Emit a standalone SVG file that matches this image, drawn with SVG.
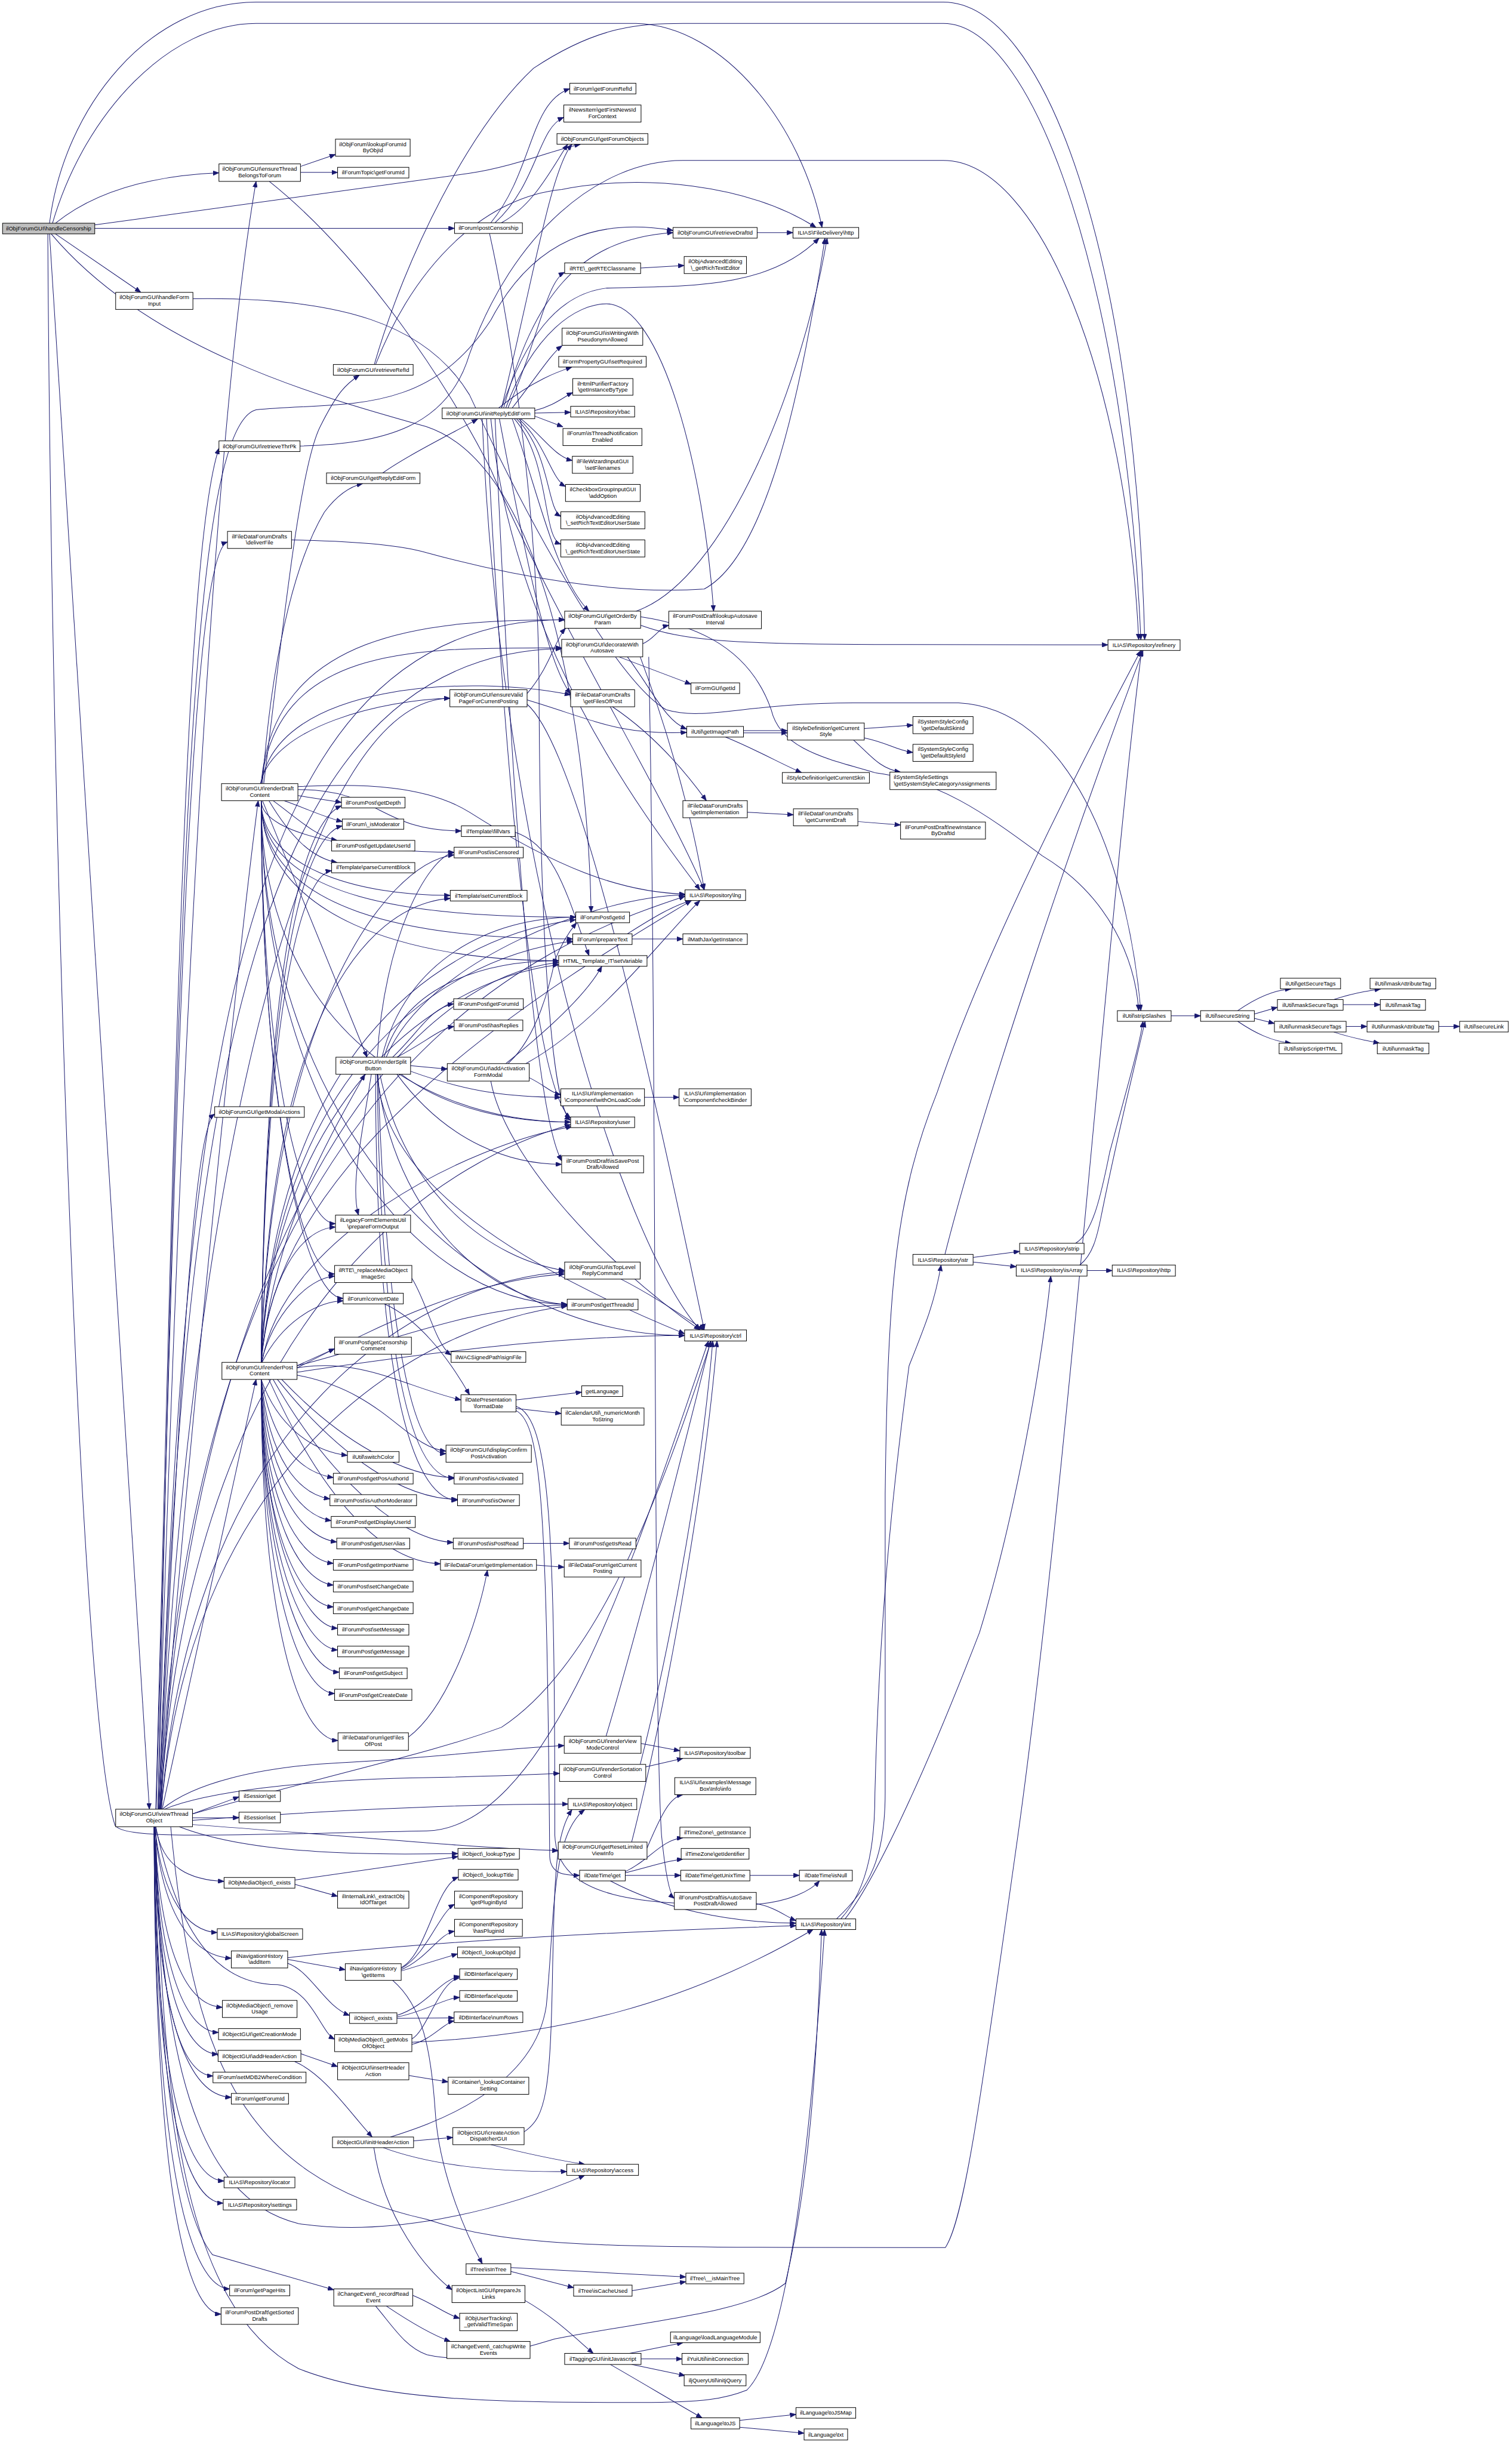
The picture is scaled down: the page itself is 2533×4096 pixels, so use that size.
<svg xmlns="http://www.w3.org/2000/svg" width="2533" height="4096" viewBox="0 0 2533 4096">
<defs>
<marker id="ah" markerUnits="userSpaceOnUse" markerWidth="15" markerHeight="11" refX="14" refY="5.5" orient="auto"><path d="M0,0 L14,5.5 L0,11 z" fill="#191970" stroke="#191970" stroke-width="1"/></marker>
</defs>
<style>
#edges path{fill:none;stroke:#191970;stroke-width:1.4;marker-end:url(#ah)}
.node rect{fill:#ffffff;stroke:#000000;stroke-width:1.4}
.node rect.root{fill:#bfbfbf}
.node text{font-family:"Liberation Sans",Arial,Helvetica,sans-serif;font-size:13.3px;text-anchor:middle;fill:#000000}
.node text.l{text-anchor:start}
</style>
<rect x="0" y="0" width="2533" height="4096" fill="#ffffff"/>
<g transform="scale(0.715)">
<g id="edges">
<path d="M116,523 C150,250 350,5 600,5 L2210,5 C2450,5 2660,600 2682,1499"/>
<path d="M123,523 C200,260 400,55 600,55 L1490,55 C1700,60 1880,300 1926,533"/>
<path d="M130,523 C220,450 350,412 513,405"/>
<path d="M222,527 L1100,406 C1200,392 1300,350 1360,338"/>
<path d="M222,535 L1065,535"/>
<path d="M130,548 L330,685"/>
<path d="M116,548 L350,4239"/>
<path d="M120,548 C350,820 750,930 1000,1000 C1300,1100 1380,1800 1385,2137"/>
<path d="M112,548 C120,2000 190,4050 270,4278 C300,4310 500,4300 1000,4290 C1300,4280 1500,3600 1660,3142"/>
<path d="M704,390 L786,362"/>
<path d="M704,404 L791,404"/>
<path d="M631,425 C850,600 1050,900 1150,1100 C1300,1450 1550,1850 1650,2085"/>
<path d="M452,700 C800,695 1000,760 1100,925 C1250,1250 1450,1600 1561,1663 C1650,1690 1750,1647 2000,1647 L2246,1647 C2500,1660 2640,2000 2673,2368"/>
<path d="M877,854 C950,600 1100,300 1250,160 C1400,60 1500,55 1600,55 L2210,55 C2430,55 2640,700 2673,1499"/>
<path d="M880,854 C980,600 1150,460 1316,444 C1500,407 1750,430 1912,533"/>
<path d="M703,1045 C900,1040 1050,1000 1100,830 C1200,550 1400,376 1600,376 L2210,376 C2440,376 2640,900 2668,1499"/>
<path d="M897,1108 C950,1070 1050,1020 1119,982"/>
<path d="M683,1265 C850,1268 950,1280 1000,1295 C1200,1350 1450,1395 1650,1380 C1800,1300 1880,900 1933,558"/>
<path d="M1150,522 C1250,400 1240,240 1335,208"/>
<path d="M1160,522 C1260,430 1260,300 1321,275"/>
<path d="M1175,522 C1250,480 1290,400 1330,338"/>
<path d="M1147,547 C1210,832 1260,1248 1263,1600 C1265,2300 1300,2600 1337,2625"/>
<path d="M1200,956 C1260,880 1290,830 1317,810"/>
<path d="M1168,956 C1250,890 1310,870 1340,860"/>
<path d="M1253,962 C1300,950 1320,930 1342,920"/>
<path d="M1253,968 L1337,966"/>
<path d="M1253,975 L1319,1000"/>
<path d="M1220,981 C1270,1020 1300,1070 1341,1079"/>
<path d="M1215,981 C1280,1040 1290,1120 1325,1140"/>
<path d="M1210,981 C1290,1060 1280,1190 1314,1210"/>
<path d="M1205,981 C1290,1080 1270,1260 1314,1275"/>
<path d="M1190,956 C1260,800 1280,660 1323,638"/>
<path d="M1180,956 C1250,700 1350,560 1577,545"/>
<path d="M1175,956 C1250,650 1290,400 1340,338"/>
<path d="M1175,956 C1230,800 1300,690 1421,675 C1600,670 1800,680 1919,558"/>
<path d="M1185,956 C1250,780 1350,712 1421,712 C1550,712 1650,1100 1672,1432"/>
<path d="M1200,981 C1260,1150 1300,1350 1380,1432"/>
<path d="M1150,981 C1200,1500 1500,1900 1640,2085"/>
<path d="M1140,981 C1180,1800 1250,2550 1337,2620"/>
<path d="M1130,981 C1170,2000 1450,2900 1640,3116"/>
<path d="M1160,981 C1200,1900 1250,2600 1316,2720"/>
<path d="M1170,981 C1230,1300 1280,1550 1337,1626"/>
<path d="M1501,1465 C1600,1500 1700,1510 2100,1510 L2596,1511"/>
<path d="M1490,1432 C1700,1360 1880,900 1938,558"/>
<path d="M1501,1445 C1600,1460 1750,1500 1807,1663 C1830,1760 1950,1780 2052,1811 C2200,1830 2300,1900 2442,2005 C2600,2100 2660,2250 2668,2368"/>
<path d="M1506,1508 C1530,1500 1545,1470 1567,1465"/>
<path d="M1450,1539 L1619,1603"/>
<path d="M1470,1539 C1530,1620 1560,1690 1609,1708"/>
<path d="M1500,1539 C1560,1700 1620,1900 1650,2085"/>
<path d="M1520,1539 C1540,2500 1530,4000 1550,4300 C1560,4400 1570,4440 1580,4448"/>
<path d="M1235,1625 C1290,1560 1300,1500 1325,1472"/>
<path d="M1235,1640 C1400,1690 1450,1722 1609,1716"/>
<path d="M1235,1650 C1350,1750 1500,2400 1650,3116"/>
<path d="M1435,1656 C1530,1720 1600,1800 1655,1876"/>
<path d="M1742,1712 L1845,1712"/>
<path d="M1742,1717 L1845,1717"/>
<path d="M1700,1727 C1780,1760 1830,1790 1878,1810"/>
<path d="M2025,1707 L2139,1699"/>
<path d="M2025,1729 C2080,1740 2100,1758 2139,1763"/>
<path d="M2000,1734 C2040,1770 2060,1800 2110,1809"/>
<path d="M1751,1903 L1859,1909"/>
<path d="M2010,1925 L2110,1933"/>
<path d="M698,1864 L800,1880"/>
<path d="M665,1876 C720,1895 760,1915 802,1925"/>
<path d="M640,1876 C700,1920 740,1960 790,1969"/>
<path d="M630,1876 C680,1960 730,2010 790,2021"/>
<path d="M615,1876 L860,2477"/>
<path d="M698,1843 C850,1835 1000,1840 1100,1903 C1300,2030 1450,2090 1605,2095"/>
<path d="M610,1836 C640,1700 900,1640 1054,1636"/>
<path d="M612,1836 C650,1600 1100,1580 1337,1628"/>
<path d="M612,1836 C650,1500 1000,1520 1316,1518"/>
<path d="M612,1836 C640,1480 1000,1452 1323,1452"/>
<path d="M698,1850 C890,1850 890,1947 1081,1947"/>
<path d="M612,1876 C612,1960 870,1997 1064,1997"/>
<path d="M612,1876 C612,2030 830,2098 1055,2098"/>
<path d="M612,1876 C612,2150 960,2251 1309,2251"/>
<path d="M612,1876 C612,2110 980,2149 1349,2149"/>
<path d="M612,1876 C612,2140 980,2200 1342,2200"/>
<path d="M612,1876 C612,2380 970,2629 1337,2629"/>
<path d="M612,1876 C612,2630 1100,3129 1604,3129"/>
<path d="M612,1876 C612,2540 700,2985 784,2985"/>
<path d="M612,1876 C612,2580 710,3042 804,3042"/>
<path d="M612,1876 C612,2585 970,3056 1329,3056"/>
<path d="M612,1876 C612,2470 700,2867 786,2867"/>
<path d="M615,1836 C640,1500 700,1300 760,1200 C790,1160 820,1140 850,1133"/>
<path d="M618,1836 C660,1500 700,1100 750,1000 C790,920 810,900 842,879"/>
<path d="M920,2477 C980,2420 1010,2360 1063,2352"/>
<path d="M930,2477 C1000,2440 1030,2410 1064,2405"/>
<path d="M962,2497 L1048,2505"/>
<path d="M884,2477 C900,2200 1000,2010 1064,1997"/>
<path d="M900,2477 C950,2300 1150,2251 1309,2251"/>
<path d="M895,2477 C950,2250 1150,2149 1349,2149"/>
<path d="M905,2477 C1000,2250 1400,2100 1605,2097"/>
<path d="M962,2510 C1100,2560 1200,2571 1314,2571"/>
<path d="M940,2517 C1050,2600 1200,2629 1337,2629"/>
<path d="M930,2517 C1050,2680 1200,2728 1316,2728"/>
<path d="M884,2517 C900,2800 1300,3000 1604,3125"/>
<path d="M890,2517 C950,2800 1150,2950 1323,2977"/>
<path d="M884,2517 C920,2850 1150,3050 1329,3056"/>
<path d="M884,2517 C890,3100 950,3464 1064,3464"/>
<path d="M880,2517 C880,3200 960,3515 1072,3515"/>
<path d="M886,2517 C900,3000 950,3406 1045,3406"/>
<path d="M870,2517 C850,2650 820,2780 840,2847"/>
<path d="M1185,2492 C1300,2400 1380,2320 1410,2264"/>
<path d="M1190,2492 C1260,2430 1290,2300 1300,2250 C1320,2200 1340,2175 1351,2162"/>
<path d="M1240,2525 C1280,2545 1290,2560 1314,2565"/>
<path d="M1232,2492 C1400,2400 1550,2200 1640,2110"/>
<path d="M1150,2533 C1180,2700 1400,2950 1640,3116"/>
<path d="M1510,2571 L1591,2571"/>
<path d="M612,3192 C640,3080 720,2995 784,2990"/>
<path d="M614,3192 C660,3100 740,3050 804,3048"/>
<path d="M696,3200 L784,3160"/>
<path d="M612,3232 C650,3340 730,3400 814,3410"/>
<path d="M612,3232 C640,3380 700,3450 781,3462"/>
<path d="M612,3232 C630,3420 700,3500 773,3512"/>
<path d="M612,3232 C625,3450 700,3550 776,3563"/>
<path d="M612,3232 C620,3480 700,3600 789,3613"/>
<path d="M612,3232 C618,3520 700,3655 781,3663"/>
<path d="M612,3232 C616,3550 700,3705 781,3714"/>
<path d="M612,3232 C614,3580 700,3760 781,3765"/>
<path d="M612,3232 C614,3600 710,3810 791,3815"/>
<path d="M612,3232 C613,3640 710,3860 791,3866"/>
<path d="M612,3232 C613,3670 710,3915 795,3918"/>
<path d="M612,3232 C612,3700 700,3965 784,3968"/>
<path d="M612,3232 C612,3800 700,4075 792,4078"/>
<path d="M696,3205 C850,3180 950,3250 1080,3280"/>
<path d="M696,3222 C900,3260 950,3390 1045,3400"/>
<path d="M660,3232 C800,3380 950,3460 1064,3462"/>
<path d="M650,3232 C800,3420 950,3512 1072,3513"/>
<path d="M640,3232 C780,3480 950,3610 1062,3614"/>
<path d="M630,3232 C760,3520 900,3660 1032,3664"/>
<path d="M696,3200 C900,3150 1100,3060 1329,3058"/>
<path d="M696,3215 C1000,3170 1300,3130 1604,3129"/>
<path d="M612,3192 C640,2700 1300,2300 1620,2110"/>
<path d="M614,3192 C660,2900 1100,2680 1340,2640"/>
<path d="M612,3192 C640,2600 1000,2300 1309,2260"/>
<path d="M612,3192 C630,2400 850,2120 1055,2105"/>
<path d="M612,3192 C620,2400 700,2050 777,2040"/>
<path d="M612,3192 C640,2500 1000,2200 1349,2155"/>
<path d="M612,3192 C630,2400 900,2020 1064,2003"/>
<path d="M612,3192 C640,2550 1000,2250 1342,2205"/>
<path d="M612,3192 C620,2300 700,1930 800,1888"/>
<path d="M612,3192 C620,2350 700,1960 802,1935"/>
<path d="M612,3192 C640,2900 750,2700 855,2517"/>
<path d="M696,3205 C900,3100 1100,3000 1323,2985"/>
<path d="M612,3192 C630,3000 700,2880 786,2875"/>
<path d="M965,2995 C1000,3050 1020,3150 1057,3175"/>
<path d="M900,3055 C980,3090 1050,3180 1100,3268"/>
<path d="M1209,3280 L1363,3262"/>
<path d="M1209,3300 L1315,3312"/>
<path d="M1209,3305 C1270,3335 1281,3547 1288,4350 C1290,4390 1320,4394 1358,4394"/>
<path d="M1209,3295 C1290,3320 1300,3600 1300,4300 C1305,4450 1500,4465 1772,4462 C1850,4455 1900,4430 1920,4407"/>
<path d="M1226,3616 L1334,3616"/>
<path d="M1257,3667 L1322,3672"/>
<path d="M957,4070 C1050,4000 1120,3800 1142,3679"/>
<path d="M1455,2997 C1520,3030 1580,3070 1650,3116"/>
<path d="M1502,4085 L1593,4102"/>
<path d="M1420,4068 C1500,3800 1600,3400 1665,3142"/>
<path d="M1513,4140 L1600,4120"/>
<path d="M1500,4134 C1560,3900 1640,3500 1670,3142"/>
<path d="M1516,4330 C1550,4250 1570,4210 1600,4205"/>
<path d="M1480,4316 C1560,4000 1650,3500 1680,3142"/>
<path d="M1465,4394 L1595,4394"/>
<path d="M1465,4388 C1520,4375 1560,4360 1600,4356"/>
<path d="M1465,4385 C1520,4360 1550,4310 1600,4306"/>
<path d="M1430,4407 C1550,4470 1700,4505 1865,4506"/>
<path d="M1757,4394 L1873,4394"/>
<path d="M1772,4460 C1820,4470 1840,4490 1865,4500"/>
<path d="M1960,4496 C2040,4420 2074,4350 2074,4200 L2074,3500 C2080,3000 2100,2800 2196,2559 C2300,2250 2500,1850 2673,1524"/>
<path d="M1970,4496 C2040,4420 2050,4300 2050,4200 C2060,3800 2090,3500 2130,3200 C2170,3100 2190,3050 2205,2964"/>
<path d="M1980,4496 C2040,4420 2150,4200 2295,3825 C2380,3550 2440,3200 2462,2990"/>
<path d="M2280,2946 L2389,2932"/>
<path d="M2280,2957 L2381,2968"/>
<path d="M2214,2939 C2300,2600 2500,2000 2678,1524"/>
<path d="M2547,2977 L2606,2977"/>
<path d="M2520,2913 C2560,2890 2580,2800 2600,2700 C2640,2550 2670,2450 2678,2393"/>
<path d="M2530,2964 C2560,2940 2570,2900 2580,2850 C2620,2650 2670,2450 2683,2393"/>
<path d="M2744,2380 L2813,2380"/>
<path d="M2900,2368 C2940,2340 2980,2320 3025,2317"/>
<path d="M2939,2376 L2993,2360"/>
<path d="M2939,2386 L2986,2398"/>
<path d="M2900,2393 C2940,2420 2980,2440 3025,2444"/>
<path d="M3125,2342 C3160,2330 3200,2322 3235,2317"/>
<path d="M3147,2354 L3234,2354"/>
<path d="M3154,2405 L3203,2405"/>
<path d="M3125,2418 C3160,2430 3200,2438 3232,2444"/>
<path d="M3371,2405 L3420,2405"/>
<path d="M370,4239 C420,2500 500,1000 600,425"/>
<path d="M365,4239 C410,2600 430,1300 513,1050"/>
<path d="M366,4239 C410,2700 440,1300 533,1270"/>
<path d="M372,4239 C430,2700 500,1450 1323,1452"/>
<path d="M372,4239 C430,2800 520,1530 1316,1520"/>
<path d="M375,4239 C430,3500 550,2300 605,1876"/>
<path d="M380,4239 L600,3232"/>
<path d="M372,4239 C420,3300 450,2650 503,2610"/>
<path d="M375,4239 C450,2500 1300,2200 1605,2100"/>
<path d="M451,4250 C800,4150 1000,4111 1175,4047 C1400,3900 1550,3500 1666,3142"/>
<path d="M376,4239 C450,3000 1100,2700 1337,2635"/>
<path d="M451,4265 C800,4240 1100,4227 1331,4227"/>
<path d="M451,4250 L560,4210"/>
<path d="M451,4259 L560,4259"/>
<path d="M380,4239 C450,4180 600,4140 800,4130 C1000,4120 1200,4095 1322,4090"/>
<path d="M385,4239 C480,4200 700,4170 1000,4165 C1150,4162 1250,4158 1311,4155"/>
<path d="M451,4275 C800,4300 1100,4330 1308,4336"/>
<path d="M420,4280 C600,4350 900,4345 1073,4343"/>
<path d="M378,4239 C450,3400 1000,3100 1329,3060"/>
<path d="M378,4239 C450,3300 1000,3000 1323,2980"/>
<path d="M377,4239 C440,3000 900,2300 1309,2255"/>
<path d="M374,4239 C440,2800 700,1640 1054,1636"/>
<path d="M370,4239 C420,2000 450,1000 600,960 C800,940 1000,980 1150,750 C1250,560 1400,510 1577,540"/>
<path d="M400,4280 C450,4800 550,5100 1000,5200 C1200,5266 1400,5266 2150,5266 L2215,5266 C2260,5200 2300,4900 2378,4350 C2500,3500 2600,2100 2675,1524"/>
<path d="M365,4280 C380,4900 420,5400 700,5550 C900,5629 1200,5629 1500,5629 C1650,5629 1700,5620 1750,5600 C1850,5500 1900,5000 1932,4521"/>
<path d="M365,4280 C380,4380 450,4405 525,4408"/>
<path d="M363,4280 C380,4450 440,4525 509,4528"/>
<path d="M363,4280 C380,4500 460,4585 542,4588"/>
<path d="M362,4280 C375,4580 440,4700 521,4703"/>
<path d="M362,4280 C372,4630 440,4760 512,4762"/>
<path d="M362,4280 C370,4680 440,4812 511,4813"/>
<path d="M362,4280 C368,4720 430,4862 499,4864"/>
<path d="M362,4280 C366,4760 450,4912 542,4914"/>
<path d="M361,4280 C364,4900 440,5108 525,5110"/>
<path d="M361,4280 C363,4950 440,5160 523,5162"/>
<path d="M361,4280 C362,5100 450,5360 538,5363"/>
<path d="M361,4280 C362,5150 440,5420 518,5422"/>
<path d="M362,4280 C370,4900 430,5200 498,5283 L782,5365"/>
<path d="M365,4280 C420,4550 520,4650 650,4650 C730,4660 750,4760 784,4778"/>
<path d="M362,4280 C380,4800 450,5150 700,5210 C900,5240 1150,5190 1370,5097"/>
<path d="M969,5016 L1061,5008"/>
<path d="M898,5032 C1000,5070 1150,5090 1328,5088"/>
<path d="M876,5032 C900,5200 1000,5320 1059,5365"/>
<path d="M915,5007 C1000,4980 1250,4900 1280,4700 C1300,4500 1290,4300 1370,4240"/>
<path d="M1150,5025 C1250,5050 1330,5065 1370,5071"/>
<path d="M1228,4995 C1280,4960 1290,4900 1295,4600 C1300,4400 1300,4300 1340,4240"/>
<path d="M705,4812 L791,4842"/>
<path d="M690,4830 C760,4860 820,4950 872,5007"/>
<path d="M958,4863 L1050,4878"/>
<path d="M691,4415 L791,4443"/>
<path d="M691,4405 L1073,4350"/>
<path d="M674,4591 L809,4615"/>
<path d="M674,4600 C730,4620 760,4700 819,4722"/>
<path d="M674,4587 C900,4560 1300,4530 1865,4512"/>
<path d="M940,4610 C1000,4580 1020,4420 1074,4398"/>
<path d="M940,4612 C1000,4580 1030,4480 1065,4462"/>
<path d="M940,4615 C1000,4590 1030,4530 1065,4525"/>
<path d="M940,4618 L1072,4578"/>
<path d="M920,4640 C990,4700 1010,4800 1020,4950 C1030,5100 1100,5250 1130,5304"/>
<path d="M930,4722 C1000,4700 1030,4640 1077,4630"/>
<path d="M930,4726 C1000,4712 1040,4682 1077,4680"/>
<path d="M930,4729 L1064,4728"/>
<path d="M965,4777 C1000,4760 1030,4640 1077,4634"/>
<path d="M965,4790 C1010,4780 1040,4740 1064,4735"/>
<path d="M965,4785 C1300,4770 1600,4700 1905,4521"/>
<path d="M967,5378 C1020,5400 1040,5420 1077,5432"/>
<path d="M905,5403 C960,5440 1010,5470 1055,5486"/>
<path d="M880,5403 C920,5450 950,5500 1000,5517 C1100,5540 1200,5510 1300,5480 C1500,5440 1750,5420 1840,5350 C1900,5100 1915,4800 1925,4521"/>
<path d="M1230,5390 C1300,5430 1350,5480 1390,5514"/>
<path d="M1197,5313 L1607,5335"/>
<path d="M1197,5322 L1344,5360"/>
<path d="M1481,5367 L1607,5346"/>
<path d="M1475,5514 L1600,5489"/>
<path d="M1502,5527 L1598,5527"/>
<path d="M1480,5540 L1605,5566"/>
<path d="M1430,5540 C1500,5580 1600,5640 1645,5665"/>
<path d="M1733,5671 L1865,5657"/>
<path d="M1733,5687 L1884,5701"/>
<path d="M1501,628 L1603,622"/>
<path d="M1774,545 L1858,545"/>
<path d="M1481,2200 L1600,2200"/>
<path d="M1470,2188 C1530,2150 1580,2120 1620,2110"/>
<path d="M1207,1950 C1300,1980 1330,2100 1380,2239"/>
</g>
<g id="n-root" class="node"><rect class="root" x="6" y="523" width="216" height="25"/><text x="114" y="540">ilObjForumGUI\handleCensorship</text></g>
<g id="n-ensure" class="node"><rect x="513" y="384" width="191" height="41"/><text x="608.5" y="400">ilObjForumGUI\ensureThread</text><text x="608.5" y="415">BelongsToForum</text></g>
<g id="n-lookupForumId" class="node"><rect x="786" y="326" width="175" height="40"/><text x="873.5" y="342">ilObjForum\lookupForumId</text><text x="873.5" y="357">ByObjId</text></g>
<g id="n-topicForumId" class="node"><rect x="791" y="392" width="167" height="25"/><text x="874.5" y="409">ilForumTopic\getForumId</text></g>
<g id="n-handleFormInput" class="node"><rect x="271" y="685" width="181" height="40"/><text x="361.5" y="701">ilObjForumGUI\handleForm</text><text x="361.5" y="716">Input</text></g>
<g id="n-retrieveRefId" class="node"><rect x="781" y="854" width="187" height="25"/><text x="874.5" y="871">ilObjForumGUI\retrieveRefId</text></g>
<g id="n-retrieveThrPk" class="node"><rect x="513" y="1033" width="190" height="25"/><text x="608" y="1050">ilObjForumGUI\retrieveThrPk</text></g>
<g id="n-getReplyEditForm" class="node"><rect x="765" y="1108" width="219" height="25"/><text x="874.5" y="1125">ilObjForumGUI\getReplyEditForm</text></g>
<g id="n-deliverFile" class="node"><rect x="533" y="1245" width="150" height="40"/><text x="608" y="1261">ilFileDataForumDrafts</text><text x="608" y="1276">\deliverFile</text></g>
<g id="n-getForumRefId" class="node"><rect x="1335" y="195" width="155" height="25"/><text x="1412.5" y="212">ilForum\getForumRefId</text></g>
<g id="n-newsItem" class="node"><rect x="1321" y="246" width="181" height="40"/><text x="1411.5" y="262">ilNewsItem\getFirstNewsId</text><text x="1411.5" y="277">ForContext</text></g>
<g id="n-getForumObjects" class="node"><rect x="1305" y="313" width="213" height="25"/><text x="1411.5" y="330">ilObjForumGUI\getForumObjects</text></g>
<g id="n-postCensorship" class="node"><rect x="1065" y="522" width="159" height="25"/><text x="1144.5" y="539">ilForum\postCensorship</text></g>
<g id="n-retrieveDraftId" class="node"><rect x="1577" y="533" width="197" height="25"/><text x="1675.5" y="550">ilObjForumGUI\retrieveDraftId</text></g>
<g id="n-fdHttp" class="node"><rect x="1858" y="533" width="154" height="25"/><text x="1935" y="550">ILIAS\FileDelivery\http</text></g>
<g id="n-getRTEClassname" class="node"><rect x="1323" y="616" width="178" height="25"/><text x="1412" y="633">ilRTE\_getRTEClassname</text></g>
<g id="n-getRichTextEditor" class="node"><rect x="1603" y="601" width="146" height="40"/><text x="1676" y="617">ilObjAdvancedEditing</text><text x="1676" y="632">\_getRichTextEditor</text></g>
<g id="n-isWriting" class="node"><rect x="1317" y="769" width="189" height="40"/><text x="1411.5" y="785">ilObjForumGUI\isWritingWith</text><text x="1411.5" y="800">PseudonymAllowed</text></g>
<g id="n-setRequired" class="node"><rect x="1309" y="835" width="205" height="25"/><text x="1411.5" y="852">ilFormPropertyGUI\setRequired</text></g>
<g id="n-htmlPurifier" class="node"><rect x="1342" y="887" width="141" height="39"/><text x="1412.5" y="903">ilHtmlPurifierFactory</text><text x="1412.5" y="918">\getInstanceByType</text></g>
<g id="n-rbac" class="node"><rect x="1337" y="952" width="150" height="25"/><text x="1412" y="969">ILIAS\Repository\rbac</text></g>
<g id="n-initReplyEditForm" class="node"><rect x="1036" y="956" width="217" height="25"/><text x="1144.5" y="973">ilObjForumGUI\initReplyEditForm</text></g>
<g id="n-isThreadNotif" class="node"><rect x="1319" y="1004" width="185" height="40"/><text x="1411.5" y="1020">ilForum\isThreadNotification</text><text x="1411.5" y="1035">Enabled</text></g>
<g id="n-fileWizard" class="node"><rect x="1341" y="1069" width="142" height="40"/><text x="1412" y="1085">ilFileWizardInputGUI</text><text x="1412" y="1100">\setFilenames</text></g>
<g id="n-checkbox" class="node"><rect x="1325" y="1135" width="175" height="40"/><text x="1412.5" y="1151">ilCheckboxGroupInputGUI</text><text x="1412.5" y="1166">\addOption</text></g>
<g id="n-setRTEUS" class="node"><rect x="1314" y="1199" width="197" height="40"/><text x="1412.5" y="1215">ilObjAdvancedEditing</text><text x="1412.5" y="1230">\_setRichTextEditorUserState</text></g>
<g id="n-getRTEUS" class="node"><rect x="1314" y="1265" width="197" height="40"/><text x="1412.5" y="1281">ilObjAdvancedEditing</text><text x="1412.5" y="1296">\_getRichTextEditorUserState</text></g>
<g id="n-getOrderBy" class="node"><rect x="1323" y="1432" width="178" height="40"/><text x="1412" y="1448">ilObjForumGUI\getOrderBy</text><text x="1412" y="1463">Param</text></g>
<g id="n-lookupAutosave" class="node"><rect x="1567" y="1432" width="217" height="41"/><text x="1675.5" y="1448">ilForumPostDraft\lookupAutosave</text><text x="1675.5" y="1463">Interval</text></g>
<g id="n-refinery" class="node"><rect x="2596" y="1499" width="169" height="25"/><text x="2680.5" y="1516">ILIAS\Repository\refinery</text></g>
<g id="n-decorate" class="node"><rect x="1316" y="1498" width="190" height="41"/><text x="1411" y="1514">ilObjForumGUI\decorateWith</text><text x="1411" y="1529">Autosave</text></g>
<g id="n-ensureValid" class="node"><rect x="1054" y="1616" width="181" height="40"/><text x="1144.5" y="1632">ilObjForumGUI\ensureValid</text><text x="1144.5" y="1647">PageForCurrentPosting</text></g>
<g id="n-fdGetFilesOfPost" class="node"><rect x="1337" y="1616" width="150" height="40"/><text x="1412" y="1632">ilFileDataForumDrafts</text><text x="1412" y="1647">\getFilesOfPost</text></g>
<g id="n-formGetId" class="node"><rect x="1619" y="1600" width="114" height="25"/><text x="1676" y="1617">ilFormGUI\getId</text></g>
<g id="n-getImagePath" class="node"><rect x="1609" y="1702" width="133" height="25"/><text x="1675.5" y="1719">ilUtil\getImagePath</text></g>
<g id="n-getCurrentStyle" class="node"><rect x="1845" y="1694" width="180" height="40"/><text x="1935" y="1710">ilStyleDefinition\getCurrent</text><text x="1935" y="1725">Style</text></g>
<g id="n-getCurrentSkin" class="node"><rect x="1833" y="1810" width="204" height="25"/><text x="1935" y="1827">ilStyleDefinition\getCurrentSkin</text></g>
<g id="n-defaultSkin" class="node"><rect x="2139" y="1679" width="141" height="40"/><text x="2209.5" y="1695">ilSystemStyleConfig</text><text x="2209.5" y="1710">\getDefaultSkinId</text></g>
<g id="n-defaultStyle" class="node"><rect x="2139" y="1744" width="141" height="40"/><text x="2209.5" y="1760">ilSystemStyleConfig</text><text x="2209.5" y="1775">\getDefaultStyleId</text></g>
<g id="n-styleSettings" class="node"><rect x="2085" y="1809" width="249" height="41"/><text class="l" x="2094" y="1825">ilSystemStyleSettings</text><text class="l" x="2094" y="1840">\getSystemStyleCategoryAssignments</text></g>
<g id="n-renderDraft" class="node"><rect x="519" y="1836" width="179" height="40"/><text x="608.5" y="1852">ilObjForumGUI\renderDraft</text><text x="608.5" y="1867">Content</text></g>
<g id="n-getDepth" class="node"><rect x="800" y="1868" width="149" height="25"/><text x="874.5" y="1885">ilForumPost\getDepth</text></g>
<g id="n-isModerator" class="node"><rect x="802" y="1919" width="144" height="24"/><text x="874" y="1936">ilForum\_isModerator</text></g>
<g id="n-getUpdateUserId" class="node"><rect x="777" y="1969" width="195" height="25"/><text x="874.5" y="1986">ilForumPost\getUpdateUserId</text></g>
<g id="n-parseCurrentBlock" class="node"><rect x="777" y="2021" width="195" height="24"/><text x="874.5" y="2037">ilTemplate\parseCurrentBlock</text></g>
<g id="n-fdGetImpl" class="node"><rect x="1600" y="1876" width="151" height="40"/><text x="1675.5" y="1892">ilFileDataForumDrafts</text><text x="1675.5" y="1907">\getImplementation</text></g>
<g id="n-getCurrentDraft" class="node"><rect x="1859" y="1895" width="151" height="40"/><text x="1934.5" y="1911">ilFileDataForumDrafts</text><text x="1934.5" y="1926">\getCurrentDraft</text></g>
<g id="n-newInstance" class="node"><rect x="2110" y="1926" width="199" height="40"/><text x="2209.5" y="1942">ilForumPostDraft\newInstance</text><text x="2209.5" y="1957">ByDraftId</text></g>
<g id="n-fillVars" class="node"><rect x="1081" y="1935" width="126" height="25"/><text x="1144" y="1952">ilTemplate\fillVars</text></g>
<g id="n-isCensored" class="node"><rect x="1064" y="1985" width="162" height="25"/><text x="1145" y="2002">ilForumPost\isCensored</text></g>
<g id="n-setCurrentBlock" class="node"><rect x="1055" y="2086" width="180" height="25"/><text x="1145" y="2103">ilTemplate\setCurrentBlock</text></g>
<g id="n-lng" class="node"><rect x="1605" y="2085" width="142" height="25"/><text x="1676" y="2102">ILIAS\Repository\lng</text></g>
<g id="n-postGetId" class="node"><rect x="1349" y="2137" width="126" height="25"/><text x="1412" y="2154">ilForumPost\getId</text></g>
<g id="n-prepareText" class="node"><rect x="1342" y="2188" width="139" height="25"/><text x="1411.5" y="2205">ilForum\prepareText</text></g>
<g id="n-mathJax" class="node"><rect x="1600" y="2188" width="151" height="25"/><text x="1675.5" y="2205">ilMathJax\getInstance</text></g>
<g id="n-setVariable" class="node"><rect x="1309" y="2239" width="207" height="25"/><text x="1412.5" y="2256">HTML_Template_IT\setVariable</text></g>
<g id="n-postGetForumId" class="node"><rect x="1063" y="2340" width="163" height="25"/><text x="1144.5" y="2357">ilForumPost\getForumId</text></g>
<g id="n-hasReplies" class="node"><rect x="1064" y="2390" width="161" height="25"/><text x="1144.5" y="2407">ilForumPost\hasReplies</text></g>
<g id="n-stripSlashes" class="node"><rect x="2618" y="2368" width="126" height="25"/><text x="2681" y="2385">ilUtil\stripSlashes</text></g>
<g id="n-secureString" class="node"><rect x="2813" y="2368" width="126" height="25"/><text x="2876" y="2385">ilUtil\secureString</text></g>
<g id="n-getSecureTags" class="node"><rect x="3000" y="2292" width="141" height="25"/><text x="3070.5" y="2309">ilUtil\getSecureTags</text></g>
<g id="n-maskSecureTags" class="node"><rect x="2993" y="2342" width="154" height="25"/><text x="3070" y="2359">ilUtil\maskSecureTags</text></g>
<g id="n-unmaskSecureTags" class="node"><rect x="2986" y="2393" width="168" height="25"/><text x="3070" y="2410">ilUtil\unmaskSecureTags</text></g>
<g id="n-stripScriptHTML" class="node"><rect x="2997" y="2444" width="147" height="25"/><text x="3070.5" y="2461">ilUtil\stripScriptHTML</text></g>
<g id="n-maskAttributeTag" class="node"><rect x="3210" y="2292" width="154" height="25"/><text x="3287" y="2309">ilUtil\maskAttributeTag</text></g>
<g id="n-maskTag" class="node"><rect x="3234" y="2342" width="106" height="25"/><text x="3287" y="2359">ilUtil\maskTag</text></g>
<g id="n-unmaskAttributeTag" class="node"><rect x="3203" y="2393" width="168" height="25"/><text x="3287" y="2410">ilUtil\unmaskAttributeTag</text></g>
<g id="n-secureLink" class="node"><rect x="3420" y="2393" width="114" height="25"/><text x="3477" y="2410">ilUtil\secureLink</text></g>
<g id="n-unmaskTag" class="node"><rect x="3227" y="2444" width="121" height="25"/><text x="3287.5" y="2461">ilUtil\unmaskTag</text></g>
<g id="n-renderSplit" class="node"><rect x="787" y="2477" width="175" height="40"/><text x="874.5" y="2493">ilObjForumGUI\renderSplit</text><text x="874.5" y="2508">Button</text></g>
<g id="n-addActivation" class="node"><rect x="1048" y="2492" width="192" height="41"/><text x="1144" y="2508">ilObjForumGUI\addActivation</text><text x="1144" y="2523">FormModal</text></g>
<g id="n-withOnLoad" class="node"><rect x="1314" y="2551" width="196" height="40"/><text x="1412" y="2567">ILIAS\UI\Implementation</text><text x="1412" y="2582">\Component\withOnLoadCode</text></g>
<g id="n-checkBinder" class="node"><rect x="1591" y="2551" width="169" height="40"/><text x="1675.5" y="2567">ILIAS\UI\Implementation</text><text x="1675.5" y="2582">\Component\checkBinder</text></g>
<g id="n-getModalActions" class="node"><rect x="503" y="2593" width="210" height="25"/><text x="608" y="2610">ilObjForumGUI\getModalActions</text></g>
<g id="n-user" class="node"><rect x="1337" y="2617" width="150" height="25"/><text x="1412" y="2634">ILIAS\Repository\user</text></g>
<g id="n-isSavePostDraft" class="node"><rect x="1316" y="2708" width="192" height="40"/><text x="1412" y="2724">ilForumPostDraft\isSavePost</text><text x="1412" y="2739">DraftAllowed</text></g>
<g id="n-prepareFormOutput" class="node"><rect x="786" y="2847" width="176" height="40"/><text x="874" y="2863">ilLegacyFormElementsUtil</text><text x="874" y="2878">\prepareFormOutput</text></g>
<g id="n-str" class="node"><rect x="2139" y="2939" width="141" height="25"/><text x="2209.5" y="2956">ILIAS\Repository\str</text></g>
<g id="n-strip" class="node"><rect x="2389" y="2913" width="151" height="25"/><text x="2464.5" y="2930">ILIAS\Repository\strip</text></g>
<g id="n-isArray" class="node"><rect x="2381" y="2964" width="166" height="26"/><text x="2464" y="2981">ILIAS\Repository\isArray</text></g>
<g id="n-repoHttp" class="node"><rect x="2606" y="2964" width="148" height="26"/><text x="2680" y="2981">ILIAS\Repository\http</text></g>
<g id="n-replaceMedia" class="node"><rect x="784" y="2965" width="181" height="40"/><text x="874.5" y="2981">ilRTE\_replaceMediaObject</text><text x="874.5" y="2996">ImageSrc</text></g>
<g id="n-isTopLevel" class="node"><rect x="1323" y="2957" width="177" height="40"/><text x="1411.5" y="2973">ilObjForumGUI\isTopLevel</text><text x="1411.5" y="2988">ReplyCommand</text></g>
<g id="n-convertDate" class="node"><rect x="804" y="3030" width="141" height="25"/><text x="874.5" y="3047">ilForum\convertDate</text></g>
<g id="n-getThreadId" class="node"><rect x="1329" y="3044" width="166" height="25"/><text x="1412" y="3061">ilForumPost\getThreadId</text></g>
<g id="n-ctrl" class="node"><rect x="1604" y="3116" width="145" height="26"/><text x="1676.5" y="3134">ILIAS\Repository\ctrl</text></g>
<g id="n-signFile" class="node"><rect x="1057" y="3167" width="175" height="25"/><text x="1144.5" y="3184">ilWACSignedPath\signFile</text></g>
<g id="n-censorshipComment" class="node"><rect x="784" y="3133" width="180" height="40"/><text x="874" y="3149">ilForumPost\getCensorship</text><text x="874" y="3164">Comment</text></g>
<g id="n-renderPost" class="node"><rect x="520" y="3192" width="176" height="40"/><text x="608" y="3208">ilObjForumGUI\renderPost</text><text x="608" y="3223">Content</text></g>
<g id="n-getLanguage" class="node"><rect x="1363" y="3247" width="96" height="25"/><text x="1411" y="3264">getLanguage</text></g>
<g id="n-formatDate" class="node"><rect x="1080" y="3268" width="129" height="40"/><text x="1144.5" y="3284">ilDatePresentation</text><text x="1144.5" y="3299">\formatDate</text></g>
<g id="n-numericMonth" class="node"><rect x="1315" y="3299" width="194" height="40"/><text x="1412" y="3315">ilCalendarUtil\_numericMonth</text><text x="1412" y="3330">ToString</text></g>
<g id="n-displayConfirm" class="node"><rect x="1045" y="3386" width="200" height="40"/><text x="1145" y="3402">ilObjForumGUI\displayConfirm</text><text x="1145" y="3417">PostActivation</text></g>
<g id="n-switchColor" class="node"><rect x="814" y="3401" width="121" height="25"/><text x="874.5" y="3418">ilUtil\switchColor</text></g>
<g id="n-isActivated" class="node"><rect x="1064" y="3452" width="161" height="25"/><text x="1144.5" y="3469">ilForumPost\isActivated</text></g>
<g id="n-getPosAuthorId" class="node"><rect x="781" y="3452" width="187" height="25"/><text x="874.5" y="3469">ilForumPost\getPosAuthorId</text></g>
<g id="n-isOwner" class="node"><rect x="1072" y="3502" width="145" height="26"/><text x="1144.5" y="3520">ilForumPost\isOwner</text></g>
<g id="n-isAuthorModerator" class="node"><rect x="773" y="3502" width="203" height="26"/><text x="874.5" y="3520">ilForumPost\isAuthorModerator</text></g>
<g id="n-getDisplayUserId" class="node"><rect x="776" y="3553" width="197" height="26"/><text x="874.5" y="3571">ilForumPost\getDisplayUserId</text></g>
<g id="n-isPostRead" class="node"><rect x="1062" y="3604" width="164" height="25"/><text x="1144" y="3621">ilForumPost\isPostRead</text></g>
<g id="n-getIsRead" class="node"><rect x="1334" y="3604" width="156" height="25"/><text x="1412" y="3621">ilForumPost\getIsRead</text></g>
<g id="n-getUserAlias" class="node"><rect x="789" y="3604" width="171" height="25"/><text x="874.5" y="3621">ilForumPost\getUserAlias</text></g>
<g id="n-fdfGetImpl" class="node"><rect x="1032" y="3654" width="225" height="25"/><text x="1144.5" y="3671">ilFileDataForum\getImplementation</text></g>
<g id="n-getCurrentPosting" class="node"><rect x="1322" y="3655" width="180" height="40"/><text x="1412" y="3671">ilFileDataForum\getCurrent</text><text x="1412" y="3686">Posting</text></g>
<g id="n-getImportName" class="node"><rect x="781" y="3654" width="187" height="25"/><text x="874.5" y="3671">ilForumPost\getImportName</text></g>
<g id="n-setChangeDate" class="node"><rect x="781" y="3705" width="187" height="25"/><text x="874.5" y="3722">ilForumPost\setChangeDate</text></g>
<g id="n-getChangeDate" class="node"><rect x="781" y="3755" width="187" height="26"/><text x="874.5" y="3773">ilForumPost\getChangeDate</text></g>
<g id="n-setMessage" class="node"><rect x="791" y="3806" width="167" height="25"/><text x="874.5" y="3823">ilForumPost\setMessage</text></g>
<g id="n-getMessage" class="node"><rect x="791" y="3857" width="167" height="25"/><text x="874.5" y="3874">ilForumPost\getMessage</text></g>
<g id="n-getSubject" class="node"><rect x="795" y="3908" width="159" height="25"/><text x="874.5" y="3925">ilForumPost\getSubject</text></g>
<g id="n-getCreateDate" class="node"><rect x="784" y="3958" width="181" height="26"/><text x="874.5" y="3976">ilForumPost\getCreateDate</text></g>
<g id="n-fdfGetFilesOfPost" class="node"><rect x="792" y="4060" width="165" height="41"/><text x="874.5" y="4076">ilFileDataForum\getFiles</text><text x="874.5" y="4091">OfPost</text></g>
<g id="n-renderViewMode" class="node"><rect x="1322" y="4068" width="180" height="40"/><text x="1412" y="4084">ilObjForumGUI\renderView</text><text x="1412" y="4099">ModeControl</text></g>
<g id="n-toolbar" class="node"><rect x="1593" y="4094" width="165" height="26"/><text x="1675.5" y="4112">ILIAS\Repository\toolbar</text></g>
<g id="n-renderSortation" class="node"><rect x="1311" y="4134" width="202" height="40"/><text x="1412" y="4150">ilObjForumGUI\renderSortation</text><text x="1412" y="4165">Control</text></g>
<g id="n-messageBox" class="node"><rect x="1581" y="4165" width="190" height="40"/><text x="1676" y="4181">ILIAS\UI\examples\Message</text><text x="1676" y="4196">Box\Info\info</text></g>
<g id="n-sessionGet" class="node"><rect x="560" y="4196" width="97" height="25"/><text x="608.5" y="4213">ilSession\get</text></g>
<g id="n-sessionSet" class="node"><rect x="560" y="4246" width="97" height="25"/><text x="608.5" y="4263">ilSession\set</text></g>
<g id="n-object" class="node"><rect x="1331" y="4214" width="161" height="26"/><text x="1411.5" y="4232">ILIAS\Repository\object</text></g>
<g id="n-viewThread" class="node"><rect x="271" y="4239" width="180" height="41"/><text x="361" y="4255">ilObjForumGUI\viewThread</text><text x="361" y="4270">Object</text></g>
<g id="n-tzGetInstance" class="node"><rect x="1593" y="4281" width="165" height="25"/><text x="1675.5" y="4298">ilTimeZone\_getInstance</text></g>
<g id="n-getResetLimited" class="node"><rect x="1308" y="4316" width="208" height="40"/><text x="1412" y="4332">ilObjForumGUI\getResetLimited</text><text x="1412" y="4347">ViewInfo</text></g>
<g id="n-getIdentifier" class="node"><rect x="1596" y="4331" width="159" height="25"/><text x="1675.5" y="4348">ilTimeZone\getIdentifier</text></g>
<g id="n-lookupType" class="node"><rect x="1073" y="4331" width="144" height="25"/><text x="1145" y="4348">ilObject\_lookupType</text></g>
<g id="n-lookupTitle" class="node"><rect x="1074" y="4380" width="140" height="25"/><text x="1144" y="4397">ilObject\_lookupTitle</text></g>
<g id="n-dtGet" class="node"><rect x="1358" y="4382" width="107" height="25"/><text x="1411.5" y="4399">ilDateTime\get</text></g>
<g id="n-getUnixTime" class="node"><rect x="1595" y="4382" width="162" height="25"/><text x="1676" y="4399">ilDateTime\getUnixTime</text></g>
<g id="n-isNull" class="node"><rect x="1873" y="4382" width="124" height="25"/><text x="1935" y="4399">ilDateTime\isNull</text></g>
<g id="n-mobExists" class="node"><rect x="525" y="4399" width="166" height="25"/><text x="608" y="4416">ilObjMediaObject\_exists</text></g>
<g id="n-internalLink" class="node"><rect x="791" y="4431" width="167" height="40"/><text x="874.5" y="4447">ilInternalLink\_extractObj</text><text x="874.5" y="4462">IdOfTarget</text></g>
<g id="n-getPluginById" class="node"><rect x="1065" y="4431" width="159" height="40"/><text x="1144.5" y="4447">ilComponentRepository</text><text x="1144.5" y="4462">\getPluginById</text></g>
<g id="n-isAutoSave" class="node"><rect x="1580" y="4434" width="192" height="40"/><text x="1676" y="4450">ilForumPostDraft\isAutoSave</text><text x="1676" y="4465">PostDraftAllowed</text></g>
<g id="n-hasPluginId" class="node"><rect x="1065" y="4497" width="159" height="40"/><text x="1144.5" y="4513">ilComponentRepository</text><text x="1144.5" y="4528">\hasPluginId</text></g>
<g id="n-int" class="node"><rect x="1865" y="4496" width="140" height="25"/><text x="1935" y="4513">ILIAS\Repository\int</text></g>
<g id="n-globalScreen" class="node"><rect x="509" y="4519" width="200" height="25"/><text x="609" y="4536">ILIAS\Repository\globalScreen</text></g>
<g id="n-lookupObjId" class="node"><rect x="1072" y="4562" width="146" height="25"/><text x="1145" y="4579">ilObject\_lookupObjId</text></g>
<g id="n-addItem" class="node"><rect x="542" y="4571" width="132" height="40"/><text x="608" y="4587">ilNavigationHistory</text><text x="608" y="4602">\addItem</text></g>
<g id="n-getItems" class="node"><rect x="809" y="4601" width="131" height="39"/><text x="874.5" y="4617">ilNavigationHistory</text><text x="874.5" y="4632">\getItems</text></g>
<g id="n-dbQuery" class="node"><rect x="1077" y="4613" width="135" height="25"/><text x="1144.5" y="4630">ilDBInterface\query</text></g>
<g id="n-dbQuote" class="node"><rect x="1077" y="4664" width="135" height="25"/><text x="1144.5" y="4681">ilDBInterface\quote</text></g>
<g id="n-removeUsage" class="node"><rect x="521" y="4687" width="175" height="40"/><text x="608.5" y="4703">ilObjMediaObject\_remove</text><text x="608.5" y="4718">Usage</text></g>
<g id="n-numRows" class="node"><rect x="1064" y="4714" width="161" height="25"/><text x="1144.5" y="4731">ilDBInterface\numRows</text></g>
<g id="n-objectExists" class="node"><rect x="819" y="4716" width="111" height="25"/><text x="874.5" y="4733">ilObject\_exists</text></g>
<g id="n-getCreationMode" class="node"><rect x="512" y="4753" width="192" height="26"/><text x="608" y="4771">ilObjectGUI\getCreationMode</text></g>
<g id="n-getMobs" class="node"><rect x="784" y="4767" width="181" height="40"/><text x="874.5" y="4783">ilObjMediaObject\_getMobs</text><text x="874.5" y="4798">OfObject</text></g>
<g id="n-addHeaderAction" class="node"><rect x="511" y="4804" width="194" height="26"/><text x="608" y="4822">ilObjectGUI\addHeaderAction</text></g>
<g id="n-insertHeaderAction" class="node"><rect x="791" y="4833" width="167" height="40"/><text x="874.5" y="4849">ilObjectGUI\insertHeader</text><text x="874.5" y="4864">Action</text></g>
<g id="n-setMDB2" class="node"><rect x="499" y="4855" width="218" height="25"/><text x="608" y="4872">ilForum\setMDB2WhereCondition</text></g>
<g id="n-lookupContainer" class="node"><rect x="1050" y="4867" width="189" height="40"/><text x="1144.5" y="4883">ilContainer\_lookupContainer</text><text x="1144.5" y="4898">Setting</text></g>
<g id="n-forumGetForumId" class="node"><rect x="542" y="4905" width="134" height="25"/><text x="609" y="4922">ilForum\getForumId</text></g>
<g id="n-createActionDispatcher" class="node"><rect x="1061" y="4985" width="167" height="40"/><text x="1144.5" y="5001">ilObjectGUI\createAction</text><text x="1144.5" y="5016">DispatcherGUI</text></g>
<g id="n-initHeaderAction" class="node"><rect x="779" y="5007" width="190" height="25"/><text x="874" y="5024">ilObjectGUI\initHeaderAction</text></g>
<g id="n-access" class="node"><rect x="1328" y="5071" width="168" height="26"/><text x="1412" y="5089">ILIAS\Repository\access</text></g>
<g id="n-locator" class="node"><rect x="525" y="5101" width="166" height="25"/><text x="608" y="5118">ILIAS\Repository\locator</text></g>
<g id="n-settings" class="node"><rect x="523" y="5153" width="172" height="25"/><text x="609" y="5170">ILIAS\Repository\settings</text></g>
<g id="n-isInTree" class="node"><rect x="1092" y="5304" width="105" height="25"/><text x="1144.5" y="5321">ilTree\isInTree</text></g>
<g id="n-isMainTree" class="node"><rect x="1607" y="5326" width="136" height="25"/><text x="1675" y="5343">ilTree\__isMainTree</text></g>
<g id="n-getPageHits" class="node"><rect x="538" y="5354" width="141" height="25"/><text x="608.5" y="5371">ilForum\getPageHits</text></g>
<g id="n-isCacheUsed" class="node"><rect x="1344" y="5354" width="137" height="26"/><text x="1412.5" y="5372">ilTree\isCacheUsed</text></g>
<g id="n-prepareJsLinks" class="node"><rect x="1059" y="5355" width="171" height="40"/><text x="1144.5" y="5371">ilObjectListGUI\prepareJs</text><text x="1144.5" y="5386">Links</text></g>
<g id="n-recordRead" class="node"><rect x="782" y="5363" width="185" height="40"/><text x="874.5" y="5379">ilChangeEvent\_recordRead</text><text x="874.5" y="5394">Event</text></g>
<g id="n-getSortedDrafts" class="node"><rect x="518" y="5407" width="181" height="39"/><text x="608.5" y="5423">ilForumPostDraft\getSorted</text><text x="608.5" y="5438">Drafts</text></g>
<g id="n-validTimeSpan" class="node"><rect x="1077" y="5420" width="135" height="41"/><text x="1144.5" y="5436">ilObjUserTracking\</text><text x="1144.5" y="5451">_getValidTimeSpan</text></g>
<g id="n-loadLangModule" class="node"><rect x="1571" y="5464" width="210" height="25"/><text x="1676" y="5481">ilLanguage\loadLanguageModule</text></g>
<g id="n-catchupWrite" class="node"><rect x="1047" y="5486" width="195" height="40"/><text x="1144.5" y="5502">ilChangeEvent\_catchupWrite</text><text x="1144.5" y="5517">Events</text></g>
<g id="n-initJavascript" class="node"><rect x="1323" y="5514" width="179" height="26"/><text x="1412.5" y="5532">ilTaggingGUI\initJavascript</text></g>
<g id="n-initConnection" class="node"><rect x="1598" y="5514" width="155" height="26"/><text x="1675.5" y="5532">ilYuiUtil\initConnection</text></g>
<g id="n-initjQuery" class="node"><rect x="1603" y="5564" width="145" height="26"/><text x="1675.5" y="5582">iljQueryUtil\initjQuery</text></g>
<g id="n-toJSMap" class="node"><rect x="1865" y="5641" width="140" height="25"/><text x="1935" y="5658">ilLanguage\toJSMap</text></g>
<g id="n-toJS" class="node"><rect x="1619" y="5665" width="114" height="26"/><text x="1676" y="5683">ilLanguage\toJS</text></g>
<g id="n-txt" class="node"><rect x="1884" y="5691" width="102" height="26"/><text x="1935" y="5709">ilLanguage\txt</text></g>
</g>
</svg>
